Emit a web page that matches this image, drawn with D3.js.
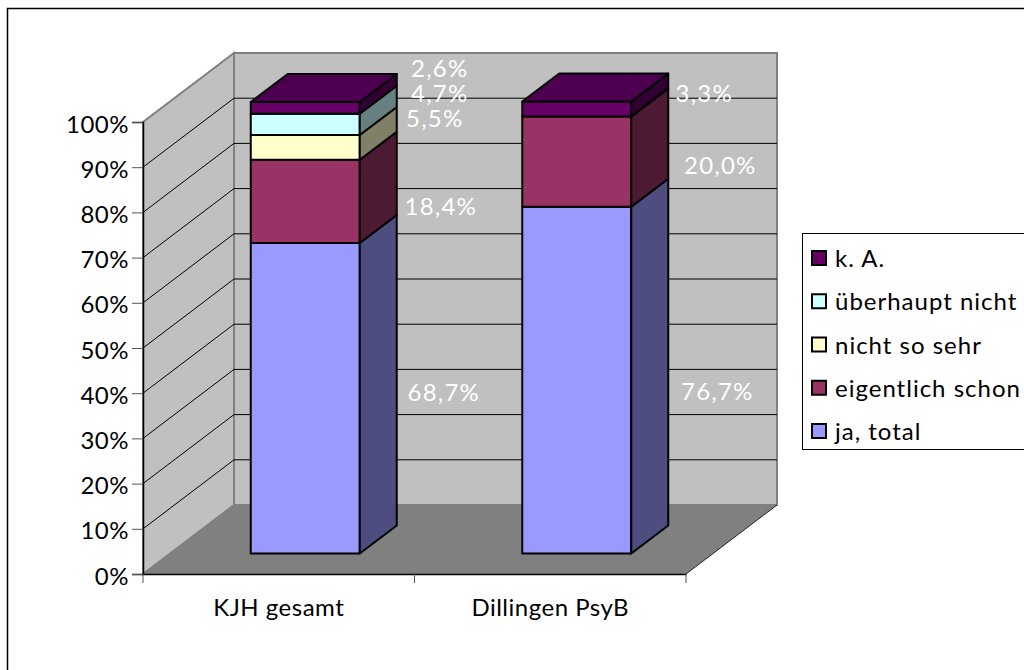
<!DOCTYPE html>
<meta charset="utf-8">
<style>
  body { margin: 0; background: #fff; }
  text { font-family: Lato, sans-serif; font-size: 24px; }
  .value-label { letter-spacing: 1.2px; }
  .legend-label { letter-spacing: 1px; }
</style>
<script src="https://d3js.org/d3.v7.min.js"></script>
<div id="chart"></div>
<script>

// values
var categories = ["KJH gesamt", "Dillingen PsyB"];
var seriesNames = ["ja, total", "eigentlich schon", "nicht so sehr", "überhaupt nicht", "k. A."];
var kjhValues = [68.7, 18.4, 5.5, 4.7, 2.6];
var dillingenValues = [76.7, 20.0, 0, 0, 3.3];
var yTicks = [0, 10, 20, 30, 40, 50, 60, 70, 80, 90, 100];

var frontColors = ["#9999ff", "#993366", "#ffffcc", "#ccffff", "#660066"];
var sideColors = ["#4d4d80", "#4d1a33", "#808066", "#668080", "#330033"];
var topColor = "#4d0050";

var rows = [kjhValues, dillingenValues];

// the labels were moved by hand in the original, so each one has its own nudge
var kjhLabelNudge = [[-1, -6], [-4, 5], [-10, -29], [-5, -31], [-5, -40]];
var dillingenLabelNudge = [[1, 11], [4, 3], [0, 0], [0, 0], [-12, -16]];
var labelNudges = [kjhLabelNudge, dillingenLabelNudge];

var svg = d3.select("#chart").append("svg")
    .attr("width", 1024)
    .attr("height", 670);

// outer frame
svg.append("rect")
    .attr("x", 7.5).attr("y", 8.5)
    .attr("width", 1040).attr("height", 700)
    .attr("fill", "#fff").attr("stroke", "#000").attr("stroke-width", 1.5);

// scales of the front plane
var x = d3.scaleBand().domain(categories).range([143, 686]);
var y = d3.scaleLinear().domain([0, 100]).range([574, 122]);

// oblique depth of the whole plot and of the bars
var depth = {dx: 91, dy: -69};
var barDepth = {dx: 37, dy: -28};
var barShift = {dx: 26.5, dy: -20.5};
var barWidth = 109;

function poly(points) {
  return points.map(function(p) { return p[0] + "," + p[1]; }).join(" ");
}

var x0 = x.range()[0], x1 = x.range()[1];
var yBase = y(0), yTop = y(100);

// walls and floor
svg.append("polygon")
    .attr("points", poly([[x0 + depth.dx, yBase + depth.dy], [x1 + depth.dx, yBase + depth.dy], [x1 + depth.dx, yTop + depth.dy], [x0 + depth.dx, yTop + depth.dy]]))
    .attr("fill", "#c0c0c0").attr("stroke", "#808080").attr("stroke-width", 2);
svg.append("polygon")
    .attr("points", poly([[x0, yBase], [x0 + depth.dx, yBase + depth.dy], [x0 + depth.dx, yTop + depth.dy], [x0, yTop]]))
    .attr("fill", "#c0c0c0").attr("stroke", "#808080").attr("stroke-width", 2);
svg.append("polygon")
    .attr("points", poly([[x0, yBase], [x1, yBase], [x1 + depth.dx, yBase + depth.dy], [x0 + depth.dx, yBase + depth.dy]]))
    .attr("fill", "#808080");
svg.append("line")
    .attr("x1", x1).attr("y1", yBase)
    .attr("x2", x1 + depth.dx).attr("y2", yBase + depth.dy)
    .attr("stroke", "#222");

// gridlines, side wall then back wall (none at 0 and 100, the walls have their edge there)
svg.append("g").selectAll("path")
    .data(yTicks.slice(1, -1))
    .enter().append("path")
    .attr("d", function(d) {
      return "M" + x0 + "," + y(d) + "L" + (x0 + depth.dx) + "," + (y(d) + depth.dy) + "L" + (x1 + depth.dx) + "," + (y(d) + depth.dy);
    })
    .attr("fill", "none")
    .attr("stroke", "#000").attr("stroke-width", 1);

// axes
var yAxis = d3.axisLeft(y)
    .tickValues(yTicks)
    .tickSize(11).tickPadding(3)
    .tickFormat(function(d) { return d + "%"; });
var yG = svg.append("g").attr("transform", "translate(" + x0 + ",0)").call(yAxis);
var xAxis = d3.axisBottom(x).tickSize(0).tickPadding(25);
var xG = svg.append("g").attr("transform", "translate(0," + yBase + ")").call(xAxis);
xG.selectAll("line.bound").data([x0, x0 + x.step(), x1]).enter().append("line")
    .attr("class", "bound")
    .attr("x1", function(d) { return d; }).attr("x2", function(d) { return d; })
    .attr("y1", 0).attr("y2", 9).attr("stroke", "#555");
yG.selectAll(".tick line").attr("stroke", "#555");
svg.selectAll(".domain").attr("stroke", "#000").attr("stroke-width", 1.5);
svg.selectAll(".tick text")
    .style("font-family", "Lato, sans-serif")
    .style("font-size", "24px")
    .style("letter-spacing", "0.5px")
    .attr("fill", "#000");
yG.selectAll(".tick text").attr("dy", "0.42em");

// stacked bars, bottom segment first
rows.forEach(function(values, i) {
  var left = x(categories[i]) + x.bandwidth() / 2 + barShift.dx - barWidth / 2;
  var g = svg.append("g").attr("stroke", "#000").attr("stroke-width", 2).attr("stroke-linejoin", "round");
  var total = d3.sum(values);
  var cum = 0;
  values.forEach(function(v, s) {
    if (v === 0) return;
    var b = y(cum) + barShift.dy;
    var t = y(cum + v) + barShift.dy;
    cum += v;
    g.append("rect")
        .attr("x", left).attr("y", t)
        .attr("width", barWidth).attr("height", b - t)
        .attr("fill", frontColors[s]);
    g.append("polygon")
        .attr("points", poly([[left + barWidth, b], [left + barWidth + barDepth.dx, b + barDepth.dy], [left + barWidth + barDepth.dx, t + barDepth.dy], [left + barWidth, t]]))
        .attr("fill", sideColors[s]);
    if (cum >= total) {
      g.append("polygon")
          .attr("points", poly([[left, t], [left + barWidth, t], [left + barWidth + barDepth.dx, t + barDepth.dy], [left + barDepth.dx, t + barDepth.dy]]))
          .attr("fill", topColor);
    }
  });

  // white value labels to the right of each segment
  var c = 0;
  values.forEach(function(v, s) {
    if (v === 0) return;
    var mid = y(c + v / 2) + barShift.dy;
    c += v;
    svg.append("text")
        .attr("class", "value-label")
        .attr("x", left + barWidth + barDepth.dx + 48 + labelNudges[i][s][0])
        .attr("y", mid + 9 + labelNudges[i][s][1])
        .attr("text-anchor", "middle")
        .attr("fill", "#fff")
        .text(v.toFixed(1).replace(".", ",") + "%");
  });
});

// legend
var legend = svg.append("g");
legend.append("rect")
    .attr("x", 802.5).attr("y", 233.5)
    .attr("width", 240).attr("height", 216)
    .attr("fill", "#fff").attr("stroke", "#000");
var legendY = d3.scalePoint().domain(seriesNames.slice().reverse()).range([258, 431]);
seriesNames.forEach(function(name, s) {
  legend.append("rect")
      .attr("x", 812).attr("y", legendY(name) - 7)
      .attr("width", 14).attr("height", 14)
      .attr("fill", frontColors[s]).attr("stroke", "#000").attr("stroke-width", 2);
  legend.append("text")
      .attr("class", "legend-label")
      .attr("x", 835).attr("y", legendY(name) + 9)
      .attr("fill", "#000")
      .text(name);
});

</script>
